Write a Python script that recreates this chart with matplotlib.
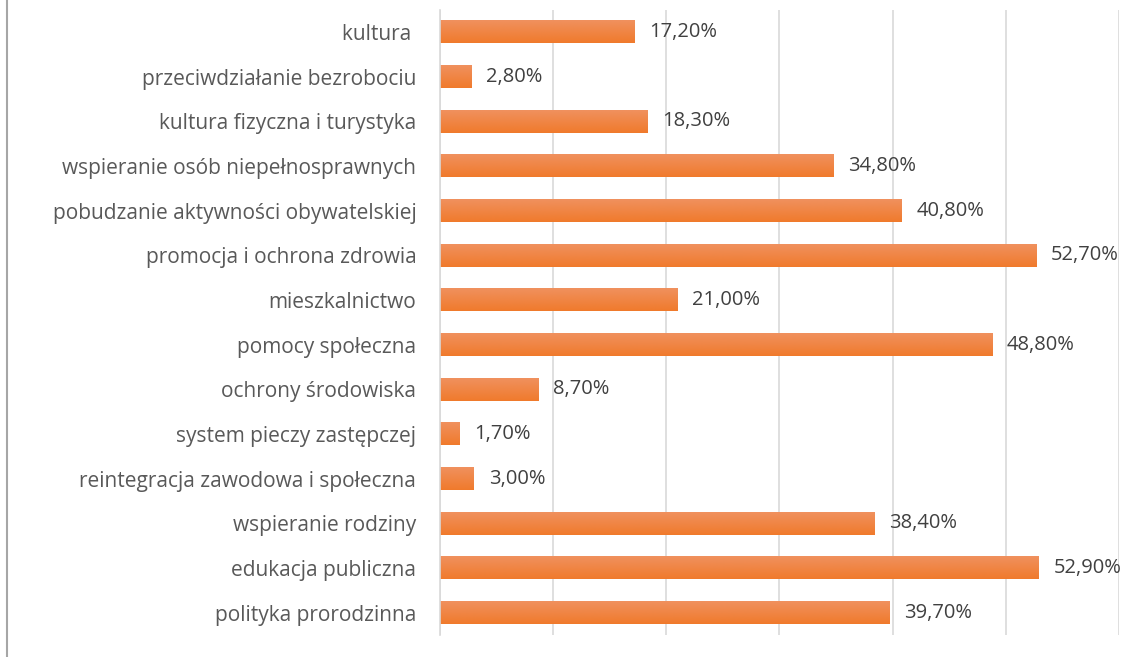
import matplotlib.pyplot as plt
import numpy as np
from matplotlib.colors import LinearSegmentedColormap
from matplotlib.lines import Line2D

categories = [
    "kultura ",
    "przeciwdziałanie bezrobociu",
    "kultura fizyczna i turystyka",
    "wspieranie osób niepełnosprawnych",
    "pobudzanie aktywności obywatelskiej",
    "promocja i ochrona zdrowia",
    "mieszkalnictwo",
    "pomocy społeczna",
    "ochrony środowiska",
    "system pieczy zastępczej",
    "reintegracja zawodowa i społeczna",
    "wspieranie rodziny",
    "edukacja publiczna",
    "polityka prorodzinna",
]
values = [17.2, 2.8, 18.3, 34.8, 40.8, 52.7, 21.0, 48.8, 8.7, 1.7, 3.0, 38.4, 52.9, 39.7]

plt.rcParams['font.family'] = ['Open Sans', 'DejaVu Sans']

fig = plt.figure(figsize=(11.29, 6.57), dpi=100)
ax = fig.add_axes([0.3897, 0.0335, 0.6014, 0.9517])

y = np.arange(len(categories))
bars = ax.barh(y, values, height=0.5, color='#F2843F', zorder=2)

# gradient fill per bar (lighter top, darker bottom)
cmap = LinearSegmentedColormap.from_list('og', ['#F07A2C', '#F0915E'])
grad = np.linspace(0, 1, 64).reshape(-1, 1)
for b in bars:
    x0, y0 = b.get_x(), b.get_y()
    w, h = b.get_width(), b.get_height()
    b.set_facecolor('none')
    ax.imshow(grad, cmap=cmap, aspect='auto', origin='lower',
              extent=[x0, x0 + w, y0 + h, y0], zorder=2)

for yi, v in zip(y, values):
    ax.text(v + 1.3, yi, f"{v:.2f}%".replace('.', ','), va='center', ha='left',
            fontsize=14.5, color='#404040')

ax.set_xlim(0, 60)
ax.set_ylim(len(categories) - 0.5, -0.5)
ax.set_xticks(np.arange(0, 61, 10))
ax.xaxis.grid(True, color='#D9D9D9', linewidth=1.2, zorder=0)
ax.set_axisbelow(True)
ax.tick_params(axis='x', length=0, labelbottom=False)
ax.set_yticks(y)
ax.set_yticklabels(categories, fontsize=15, color='#595959')
ax.tick_params(axis='y', length=0, pad=17)
for s in ['top', 'right', 'bottom']:
    ax.spines[s].set_visible(False)
ax.spines['left'].set_color('#D9D9D9')
ax.spines['left'].set_linewidth(1.2)

fig.add_artist(Line2D([0.0065, 0.0065], [0, 1], color='#A6A6A6', linewidth=1.5,
                      transform=fig.transFigure))

fig.savefig('out.png', dpi=100)
